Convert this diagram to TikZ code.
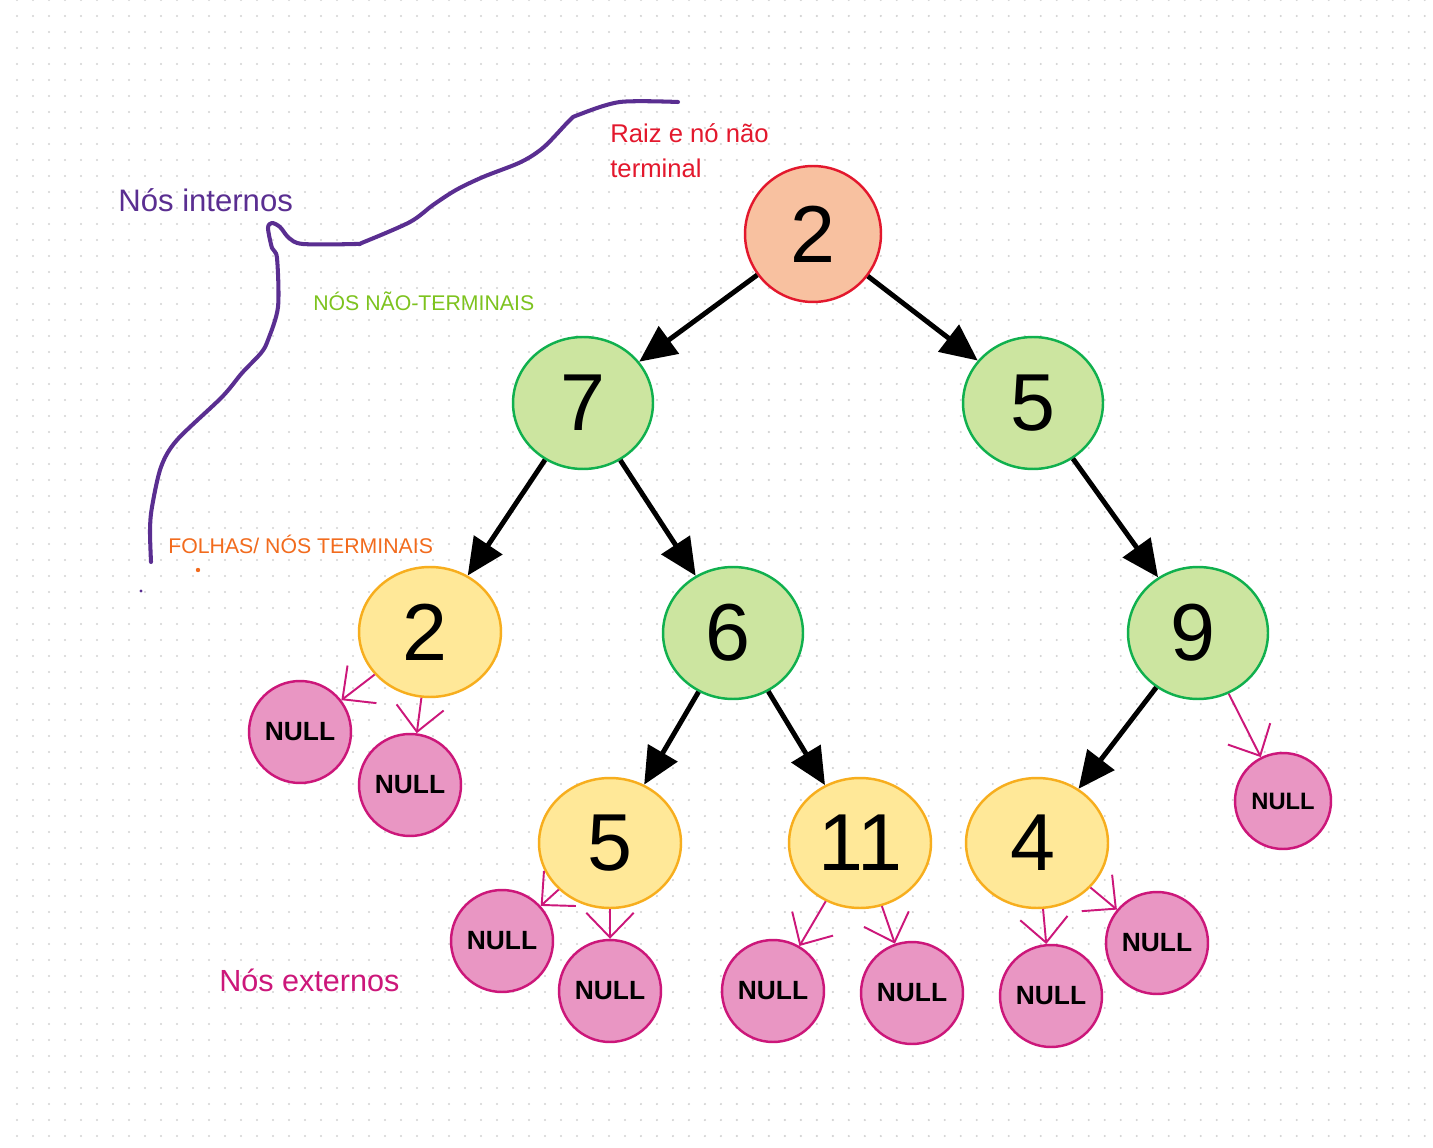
\documentclass[tikz,border=0pt]{standalone}
\usepackage{fontspec}
\setmainfont{Liberation Sans}
\usetikzlibrary{arrows.meta,shapes.geometric}
\definecolor{peachF}{HTML}{F8C1A0}
\definecolor{redB}{HTML}{E3182D}
\definecolor{greenF}{HTML}{CCE5A0}
\definecolor{greenB}{HTML}{10B04E}
\definecolor{yellowF}{HTML}{FFE898}
\definecolor{yellowB}{HTML}{F7AE1E}
\definecolor{pinkF}{HTML}{E996C3}
\definecolor{pinkB}{HTML}{CC177A}
\definecolor{purpleT}{HTML}{5A2E91}
\definecolor{greenT}{HTML}{7DC31E}
\definecolor{orangeT}{HTML}{F26B1D}
\definecolor{dotgray}{HTML}{D2D2D2}
\tikzset{
  treenode/.style={ellipse, inner sep=0pt, minimum width=2.8cm, minimum height=2.64cm, line width=1.4pt, font=\fontsize{46}{46}\selectfont},
  rootnode/.style={treenode, fill=peachF, draw=redB, minimum width=2.72cm, minimum height=2.72cm},
  innode/.style={treenode, fill=greenF, draw=greenB},
  leafnode/.style={treenode, fill=yellowF, draw=yellowB, minimum width=2.84cm, minimum height=2.6cm},
  nullnode/.style={circle, inner sep=0pt, minimum size=2.04cm, fill=pinkF, draw=pinkB, line width=1.4pt, font=\fontsize{15}{15}\selectfont\bfseries},
  treeedge/.style={line width=2.8pt, -{Triangle[length=21pt, width=19pt]}},
  nulledge/.style={draw=pinkB, line width=1.1pt, -{Straight Barb[length=14pt, width=27pt, line width=1.1pt]}},
  lbl/.style={anchor=base west, inner sep=0pt},
  dotrow/.style={draw=dotgray, line width=1.3pt, line cap=round, dash pattern=on 0pt off 0.32cm}
}
\begin{document}
\begin{tikzpicture}[x=0.02cm, y=-0.02cm]
\useasboundingbox (0,0) rectangle (1433,1148);
\fill[white] (0,0) rectangle (1433,1148);
% dot grid
\foreach \k in {0,...,71} {
  \draw[dotrow] (17,{16*\k}) -- (1433,{16*\k});
}
% purple freehand curve
\draw[purpleT, line width=2.3pt, line cap=round, line join=round]
  plot[smooth, tension=0.5] coordinates {
  (678,102) (620,102) (578,115) (569,121) (544,147) (521,162) (483,177)
  (456,190) (433,205) (410,222) (364,242) (355,244) (303,244) (289,238) (280,227)
  (272,223) (268,228) (272,248) (277,258) (278,307) (268,340) (261,353)
  (242,373) (222,397) (177,440) (161,467) (152,507) (150,530) (151,562)};
\fill[purpleT] (141,591) circle (1.6);
\fill[orangeT] (198,570) circle (2.2);
% labels
\node[lbl, text=redB, font=\fontsize{14.6}{14.6}\selectfont] (t1) at (610,143) {Raiz e nó não};
\node[lbl, text=redB, font=\fontsize{14.6}{14.6}\selectfont] (t2) at (610,178) {terminal};
\node[lbl, text=purpleT, font=\fontsize{17.7}{17.7}\selectfont] (t3) at (118,212) {Nós internos};
\node[lbl, text=greenT, font=\fontsize{12.1}{12.1}\selectfont] (t4) at (313,311) {NÓS NÃO-TERMINAIS};
\node[lbl, text=orangeT, font=\fontsize{12.1}{12.1}\selectfont] (t5) at (168,553) {FOLHAS/ NÓS TERMINAIS};
\node[lbl, text=pinkB, font=\fontsize{17.4}{17.4}\selectfont] (t6) at (219,991) {Nós externos};
% tree nodes
\node[rootnode] (r) at (813,234) {2};
\node[innode] (a) at (583,403) {7};
\node[innode] (b) at (1033,403) {5};
\node[leafnode] (c) at (430,632) {\hspace*{-6pt}2};
\node[innode] (d) at (733,633) {\hspace*{-6pt}6};
\node[innode] (e) at (1198,633) {\hspace*{-6pt}9};
\node[leafnode] (f) at (610,843) {5};
\node[leafnode] (g) at (860,843) {11};
\node[leafnode] (h) at (1037,843) {\hspace*{-5pt}4};
% null nodes
\node[nullnode] (n1) at (300,732) {NULL};
\node[nullnode] (n2) at (410,785) {NULL};
\node[nullnode] (n3) at (502,941) {NULL};
\node[nullnode] (n4) at (610,991) {NULL};
\node[nullnode] (n5) at (773,991) {NULL};
\node[nullnode] (n6) at (912,993) {NULL};
\node[nullnode] (n7) at (1051,996) {NULL};
\node[nullnode] (n8) at (1157,943) {NULL};
\node[nullnode, minimum size=1.92cm, font=\fontsize{13.5}{13.5}\selectfont\bfseries] (n9) at (1283,801) {NULL};
% tree edges
\draw[treeedge] (r) -- (a);
\draw[treeedge] (r) -- (b);
\draw[treeedge] (a) -- (c);
\draw[treeedge] (a) -- (d);
\draw[treeedge] (b) -- (e);
\draw[treeedge] (d) -- (f);
\draw[treeedge] (d) -- (g);
\draw[treeedge] (e) -- (h);
% null edges
\draw[nulledge] (c) -- (n1);
\draw[nulledge] (c) -- (n2);
\draw[nulledge] (f) -- (n3);
\draw[nulledge] (f) -- (n4);
\draw[nulledge] (g) -- (n5);
\draw[nulledge] (g) -- (n6);
\draw[nulledge] (h) -- (n7);
\draw[nulledge] (h) -- (n8);
\draw[nulledge] (e) -- (n9);
\end{tikzpicture}
\end{document}
